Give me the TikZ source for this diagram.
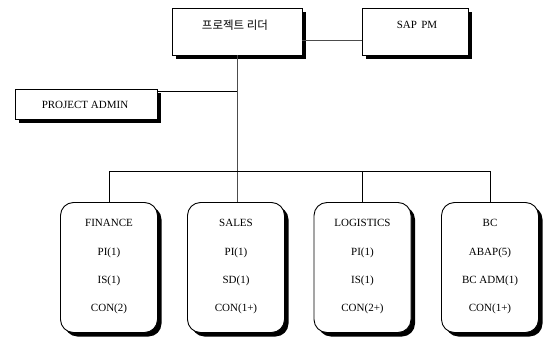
\documentclass[tikz,border=0pt]{standalone}
\usepackage{fontspec}
\setmainfont{Liberation Serif}
\newfontfamily\krfont{Noto Sans CJK KR}
\usetikzlibrary{shadows}
\tikzset{
  sqbox/.style={draw, line width=0.9pt, fill=white, inner sep=0pt,
    drop shadow={opacity=1, fill=black, shadow xshift=4pt, shadow yshift=-4pt}},
  rbox/.style={sqbox, rounded corners=13pt, minimum width=97pt, minimum height=130pt},
  lbl/.style={font=\fontsize{11}{13}\selectfont, inner sep=1pt},
  conn/.style={line width=0.9pt},
  gconn/.style={line width=0.9pt, draw=black!70}
}
\begin{document}
\begin{tikzpicture}[x=1pt, y=-1pt]
\useasboundingbox (0,0) rectangle (543,337);
% top boxes
\node[sqbox, minimum width=130pt, minimum height=47pt] (lead) at (237,31.5) {};
\node[font=\krfont\fontsize{11.5}{13}\selectfont] (leadtxt) at (235,25) {프로젝트 리더};
\node[sqbox, minimum width=106pt, minimum height=47pt] (sap) at (415,31.5) {};
\node[lbl] (saptxt) at (417,25) {SAP\hspace{0.4em}PM};
\node[sqbox, minimum width=142pt, minimum height=30pt] (admin) at (86,104) {};
\node[lbl] (admintxt) at (85,105) {PROJECT ADMIN};
% bottom boxes
\node[rbox] (fin) at (109,267.5) {};
\node[rbox] (sales) at (236,267.5) {};
\node[rbox] (logi) at (362.5,267.5) {};
\node[rbox] (bc) at (490,267.5) {};
% texts
\foreach \n/\x/\a/\b/\c/\d in {f/109/FINANCE/PI(1)/IS(1)/CON(2),
                               s/236/SALES/PI(1)/SD(1)/CON(1+),
                               l/362.5/LOGISTICS/PI(1)/IS(1)/CON(2+),
                               b/490/BC/ABAP(5)/BC ADM(1)/CON(1+)}{
  \node[lbl] (\n1) at (\x,223) {\a};
  \node[lbl] (\n2) at (\x,253) {\b};
  \node[lbl] (\n3) at (\x,281) {\c};
  \node[lbl] (\n4) at (\x,309) {\d};
}
% connectors
\coordinate (bus) at (0,171);
\draw[gconn] ([yshift=-8.5pt]lead.east) -- ([yshift=-8.5pt]sap.west);
\draw[gconn] (lead.south) -- (lead.south |- sales.north);
\draw[conn] ([yshift=-3pt]admin.north east) -- ([yshift=-3pt]admin.north east -| lead.south);
\draw[conn] (fin.north) |- (bc.north |- bus) -- (bc.north);
\draw[conn] (logi.north) -- (logi.north |- bus);
\end{tikzpicture}
\end{document}
